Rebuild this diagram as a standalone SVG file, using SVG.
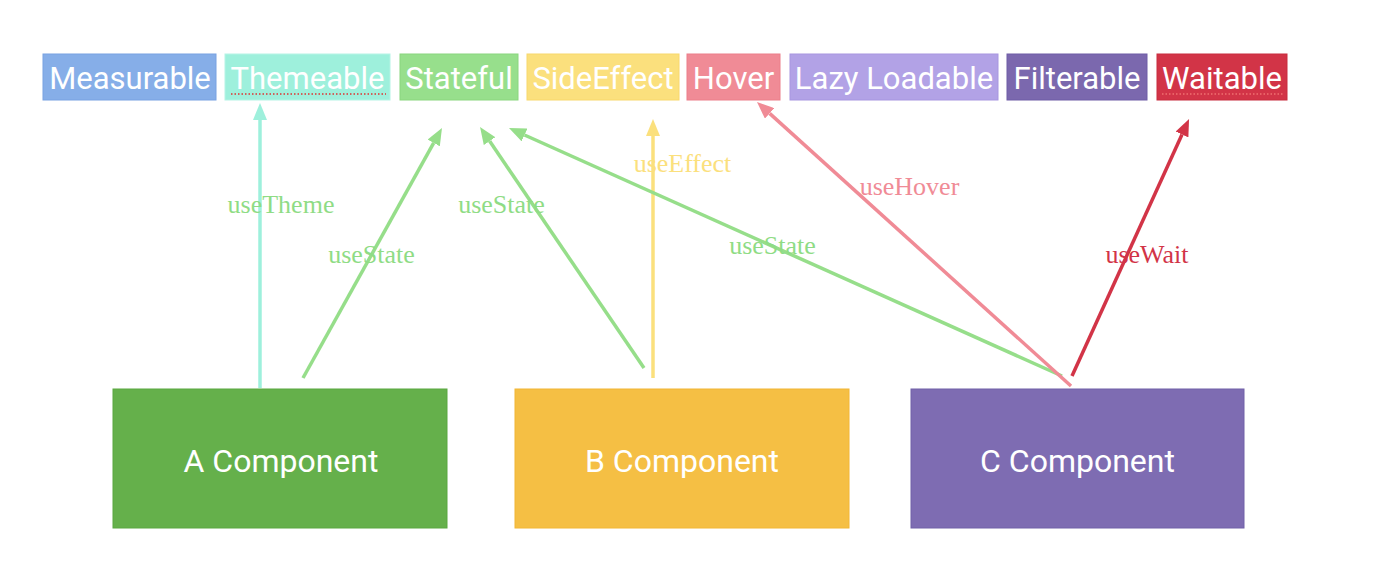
<svg xmlns="http://www.w3.org/2000/svg" width="1400" height="588" viewBox="0 0 1400 588">
  <style>
    .tag text { font-family: Roboto, "Liberation Sans", sans-serif; font-size: 31px; fill: #ffffff; text-anchor: middle; }
    .comp text { font-family: Roboto, "Liberation Sans", sans-serif; font-size: 32px; fill: #ffffff; text-anchor: middle; }
    .lbl { font-family: "Liberation Serif", serif; font-size: 26px; }
    .conn line { stroke-width: 3.5; fill: none; }
    .spell { stroke: #e03030; stroke-width: 1.5; stroke-dasharray: 1.5 2; }
  </style>
  <defs>
    <marker id="ah-teal" viewBox="0 0 17 14" markerWidth="17" markerHeight="14" refX="0" refY="7" orient="auto" markerUnits="userSpaceOnUse"><path d="M0,0 L17,7 L0,14 z" fill="#9ef0dc"/></marker>
    <marker id="ah-green" viewBox="0 0 17 14" markerWidth="17" markerHeight="14" refX="0" refY="7" orient="auto" markerUnits="userSpaceOnUse"><path d="M0,0 L17,7 L0,14 z" fill="#96de8a"/></marker>
    <marker id="ah-yellow" viewBox="0 0 17 14" markerWidth="17" markerHeight="14" refX="0" refY="7" orient="auto" markerUnits="userSpaceOnUse"><path d="M0,0 L17,7 L0,14 z" fill="#fbe07d"/></marker>
    <marker id="ah-pink" viewBox="0 0 17 14" markerWidth="17" markerHeight="14" refX="0" refY="7" orient="auto" markerUnits="userSpaceOnUse"><path d="M0,0 L17,7 L0,14 z" fill="#f08b96"/></marker>
    <marker id="ah-red" viewBox="0 0 17 14" markerWidth="17" markerHeight="14" refX="0" refY="7" orient="auto" markerUnits="userSpaceOnUse"><path d="M0,0 L17,7 L0,14 z" fill="#d23447"/></marker>
  </defs>
  <rect width="1400" height="588" fill="#ffffff"/>

  <g id="tag-measurable" class="tag"><rect x="43" y="54" width="173" height="46" fill="#86aee8" stroke="#78a2e2" stroke-width="1"/><text x="130" y="89">Measurable</text></g>
  <g id="tag-themeable" class="tag"><rect x="225" y="54" width="165" height="46" fill="#9ef0dc" stroke="#b5f4e5" stroke-width="1"/><text x="307.5" y="89">Themeable</text><line class="spell" x1="231" y1="94" x2="386" y2="94"/></g>
  <g id="tag-stateful" class="tag"><rect x="400" y="54" width="118" height="46" fill="#97df8c" stroke="#8ad67e" stroke-width="1"/><text x="459" y="89">Stateful</text></g>
  <g id="tag-sideeffect" class="tag"><rect x="527" y="54" width="152" height="46" fill="#fbe07d" stroke="#f8d86d" stroke-width="1"/><text x="603" y="89">SideEffect</text></g>
  <g id="tag-hover" class="tag"><rect x="687" y="54" width="93" height="46" fill="#f08b96" stroke="#ec7e8a" stroke-width="1"/><text x="733.5" y="89">Hover</text></g>
  <g id="tag-lazyloadable" class="tag"><rect x="790" y="54" width="208" height="46" fill="#b2a2e6" stroke="#a796e0" stroke-width="1"/><text x="894" y="89">Lazy Loadable</text></g>
  <g id="tag-filterable" class="tag"><rect x="1007" y="54" width="140" height="46" fill="#7b68ae" stroke="#6f5ca6" stroke-width="1"/><text x="1077" y="89">Filterable</text></g>
  <g id="tag-waitable" class="tag"><rect x="1157" y="54" width="130" height="46" fill="#d23447" stroke="#c82c3f" stroke-width="1"/><text x="1222" y="89">Waitable</text><line class="spell" x1="1162" y1="94" x2="1283" y2="94" style="stroke:#f07070"/></g>

  <g id="connectors" class="conn">
    <line x1="260" y1="388" x2="260" y2="120" stroke="#9ef0dc" marker-end="url(#ah-teal)"/>
    <line x1="303" y1="378" x2="433.7" y2="142.9" stroke="#96de8a" marker-end="url(#ah-green)"/>
    <line x1="644" y1="368" x2="489.6" y2="141.1" stroke="#96de8a" marker-end="url(#ah-green)"/>
    <line x1="653" y1="378" x2="653" y2="136" stroke="#fbe07d" marker-end="url(#ah-yellow)"/>
    <line x1="1062" y1="376" x2="524.5" y2="135.0" stroke="#96de8a" marker-end="url(#ah-green)"/>
    <line x1="1071" y1="386" x2="769.6" y2="113.4" stroke="#f08b96" marker-end="url(#ah-pink)"/>
    <line x1="1072" y1="376" x2="1182.0" y2="134.5" stroke="#d23447" marker-end="url(#ah-red)"/>
    <text class="lbl" x="281" y="213" text-anchor="middle" fill="#8fdc85">useTheme</text>
    <text class="lbl" x="371.5" y="263" text-anchor="middle" fill="#8fdc85">useState</text>
    <text class="lbl" x="501.5" y="213" text-anchor="middle" fill="#8fdc85">useState</text>
    <text class="lbl" x="682.5" y="172" text-anchor="middle" fill="#fbe07d">useEffect</text>
    <text class="lbl" x="772.5" y="254" text-anchor="middle" fill="#8fdc85">useState</text>
    <text class="lbl" x="909.5" y="195" text-anchor="middle" fill="#f08b96">useHover</text>
    <text class="lbl" x="1147" y="263" text-anchor="middle" fill="#d23447">useWait</text>
  </g>

  <g id="comp-a" class="comp"><rect x="113" y="389" width="334" height="139" fill="#65b04b" stroke="#5aa840" stroke-width="1"/><text x="281" y="472">A Component</text></g>
  <g id="comp-b" class="comp"><rect x="515" y="389" width="334" height="139" fill="#f5bf44" stroke="#f2b634" stroke-width="1"/><text x="682" y="472">B Component</text></g>
  <g id="comp-c" class="comp"><rect x="911" y="389" width="333" height="139" fill="#7e6cb2" stroke="#7060a8" stroke-width="1"/><text x="1077.5" y="472">C Component</text></g>
</svg>
